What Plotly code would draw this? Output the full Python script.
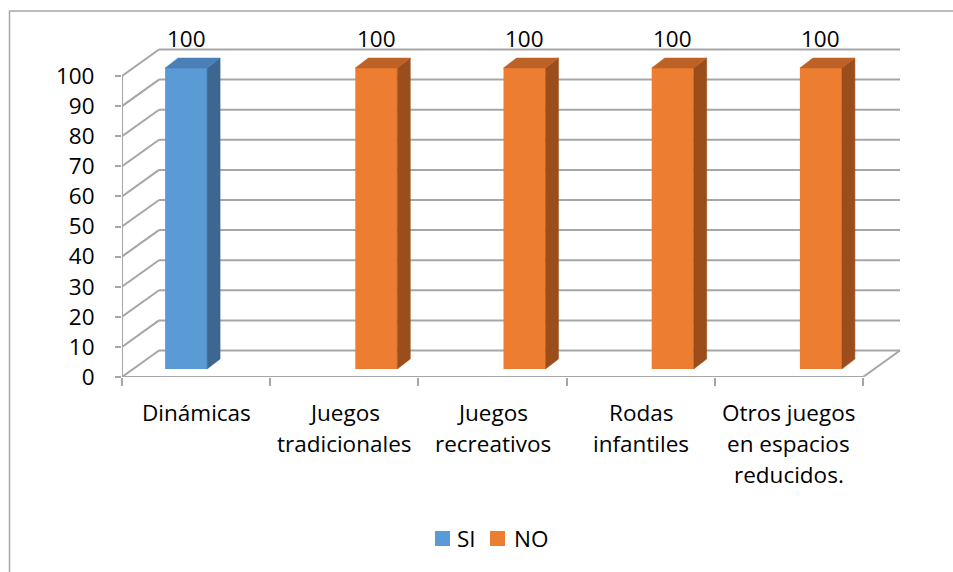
import plotly.graph_objects as go

# ---- data -------------------------------------------------------------
categories = [
    "Dinámicas",
    "Juegos<br>tradicionales",
    "Juegos<br>recreativos",
    "Rodas<br>infantiles",
    "Otros juegos<br>en espacios<br>reducidos.",
]
si_values = [100, None, None, None, None]
no_values = [None, 100, 100, 100, 100]
y_ticks = [0, 10, 20, 30, 40, 50, 60, 70, 80, 90, 100]
series_names = ["SI", "NO"]

# ---- page geometry ----------------------------------------------------
W, H = 953, 572
ML, MR, MT, MB = 122, 43, 20, 195
CAT_PX = 148.2          # pixels per category on the front plane
UNIT_PX = 3.01          # pixels per value unit on the front plane
plot_w = W - ML - MR
plot_h = H - MT - MB
x_range = [-0.5, -0.5 + plot_w / CAT_PX]
y_range = [0, plot_h / UNIT_PX]


def dx(px):
    return px / CAT_PX


def dy(px):
    return px / UNIT_PX


def paper_x(px):
    return (px - ML) / plot_w


def paper_y(py):
    return (H - MB - py) / plot_h


# depth offsets of the pseudo-3D box and columns
WALL_DX, WALL_DY = dx(37), dy(26.5)
BAR_DX, BAR_DY = dx(11), dy(8)
BAR_W = dx(42)
DEPTH_DX, DEPTH_DY = dx(13), dy(10)

# category label lines: first line centre and line pitch (pixels)
LABEL_TOP_PX, LABEL_PITCH_PX = 412, 31.5

GRID = "#A6A6A6"
FONT = dict(family="'Open Sans', Lato, sans-serif", size=22.5, color="#000000")
STYLE = {
    "SI": dict(front="#5B9BD5", top="#4A7FB8", side="#3D6790"),
    "NO": dict(front="#ED7D31", top="#BD6126", side="#9C4D1C"),
}

fig = go.Figure()

# ---- walls and floor (below the columns) -------------------------------
shapes = []


def seg(x0, y0, x1, y1):
    shapes.append(dict(type="line", xref="x", yref="y", x0=x0, y0=y0, x1=x1, y1=y1,
                       line=dict(color=GRID, width=2), layer="below"))


n = len(categories)
left, right = -0.5, n - 0.5
seg(left, 0, left, y_ticks[-1])
for v in y_ticks:
    seg(left, v, left + WALL_DX, v + WALL_DY)
    seg(left + WALL_DX, v + WALL_DY, right + WALL_DX, v + WALL_DY)
seg(left, 0, right, 0)
seg(right, 0, right + WALL_DX, WALL_DY)

# chart frame
shapes.append(dict(type="rect", xref="paper", yref="paper",
                   x0=paper_x(9.5), x1=paper_x(1000), y0=paper_y(620), y1=paper_y(11),
                   line=dict(color="#A6A6A6", width=1.5), fillcolor="rgba(0,0,0,0)",
                   layer="below"))

# ---- columns --------------------------------------------------------------
annotations = []
for name, vals, offset in [("SI", si_values, -BAR_W), ("NO", no_values, 0.0)]:
    st = STYLE[name]
    xs = [i + BAR_DX for i in range(n)]
    fig.add_bar(x=xs, y=vals, base=BAR_DY, width=BAR_W, offset=offset,
                marker=dict(color=st["front"], line=dict(width=0)),
                name=name, showlegend=False, hoverinfo="skip")
    top_x, top_y, side_x, side_y = [], [], [], []
    for i, v in enumerate(vals):
        if v is None:
            continue
        x0 = i + BAR_DX + offset
        x1 = x0 + BAR_W
        y0 = BAR_DY
        y1 = BAR_DY + v
        top_x += [x0, x1, x1 + DEPTH_DX, x0 + DEPTH_DX, x0, None]
        top_y += [y1, y1, y1 + DEPTH_DY, y1 + DEPTH_DY, y1, None]
        side_x += [x1, x1 + DEPTH_DX, x1 + DEPTH_DX, x1, x1, None]
        side_y += [y0, y0 + DEPTH_DY, y1 + DEPTH_DY, y1, y0, None]
        annotations.append(dict(x=(x0 + x1) / 2, y=y1, xref="x", yref="y",
                                text=f"{v:g}", showarrow=False, font=FONT,
                                yanchor="middle", yshift=30))
    fig.add_scatter(x=side_x, y=side_y, mode="lines", fill="toself",
                    fillcolor=st["side"], line=dict(color=st["side"], width=0.5),
                    showlegend=False, hoverinfo="skip")
    fig.add_scatter(x=top_x, y=top_y, mode="lines", fill="toself",
                    fillcolor=st["top"], line=dict(color=st["top"], width=0.5),
                    showlegend=False, hoverinfo="skip")

# ---- category labels, one text line at a time --------------------------
for i, label in enumerate(categories):
    for k, line in enumerate(label.split("<br>")):
        annotations.append(dict(x=i, y=paper_y(LABEL_TOP_PX + k * LABEL_PITCH_PX),
                                xref="x", yref="paper", text=line, showarrow=False,
                                font=FONT, xanchor="center", yanchor="middle"))

# ---- legend ------------------------------------------------------------
legend_items = [("SI", 435, 455), ("NO", 490, 512)]
for name, sq_px, txt_px in legend_items:
    shapes.append(dict(type="rect", xref="paper", yref="paper",
                       x0=paper_x(sq_px), x1=paper_x(sq_px + 15),
                       y0=paper_y(546), y1=paper_y(531),
                       fillcolor=STYLE[name]["front"], line=dict(width=0)))
    annotations.append(dict(x=paper_x(txt_px), y=paper_y(538.5), xref="paper", yref="paper",
                            text=name, showarrow=False, font=FONT,
                            xanchor="left", yanchor="middle"))

fig.update_layout(
    width=W, height=H,
    margin=dict(l=ML, r=MR, t=MT, b=MB, pad=0),
    paper_bgcolor="white", plot_bgcolor="white",
    barmode="overlay",
    font=FONT,
    shapes=shapes,
    annotations=annotations,
    showlegend=False,
    xaxis=dict(range=x_range, tickmode="array", tickvals=[i - 0.5 for i in range(n + 1)],
               showticklabels=False,
               ticks="outside", ticklen=8, tickwidth=2, tickcolor=GRID,
               showline=False, showgrid=False, zeroline=False, fixedrange=True),
    yaxis=dict(range=y_range, tickmode="array", tickvals=y_ticks,
               ticks="outside", ticklen=6, tickwidth=2, tickcolor=GRID,
               showline=False, showgrid=False, zeroline=False,
               tickfont=FONT, ticklabelstandoff=16, fixedrange=True),
)

fig.write_html("out.html")
